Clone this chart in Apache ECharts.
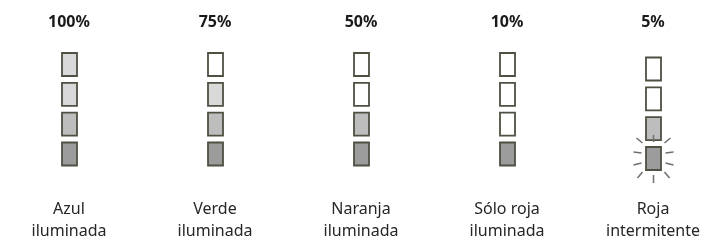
<!DOCTYPE html>
<html><head><meta charset="utf-8">
<script src="https://cdn.jsdelivr.net/npm/echarts@6/dist/echarts.min.js"></script>
<style>html,body{margin:0;padding:0;background:#fff}#c{width:703px;height:242px}</style>
</head><body><div id="c"></div>
<script>
// Data
const categories = ['Azul\niluminada', 'Verde\niluminada', 'Naranja\niluminada', 'Sólo roja\niluminada', 'Roja\nintermitente'];
const percentLabels = ['100%', '75%', '50%', '10%', '5%'];
// light level per box, top to bottom: 0 = off (white), 1 = light, 2 = medium, 3 = dark
const col1 = [1, 1, 2, 3];
const col2 = [0, 1, 2, 3];
const col3 = [0, 0, 2, 3];
const col4 = [0, 0, 0, 3];
const col5 = [0, 0, 2, 3];
const blinking = [false, false, false, false, true];

const columns = [col1, col2, col3, col4, col5];
const fills = ['#ffffff', '#d9d9d9', '#bdbdbd', '#9c9c9c'];

const data = [];
columns.forEach((col, ci) => {
  col.forEach((lvl, ri) => {
    data.push([ci, ri, lvl, (blinking[ci] && ri === col.length - 1) ? 1 : 0, blinking[ci] ? 1 : 0]);
  });
});

const rays = [
  [0, -23.5, 0, -16.5], [0, 16.5, 0, 24.5],
  [-17, -20.5, -11, -15.5], [17, -20.5, 11, -15.5],
  [-20, -6.5, -12, -5.5], [20, -6.5, 12, -5.5],
  [-20, 6.5, -12, 4.5], [20, 6.5, 12, 4.5],
  [-16, 19.5, -11, 13.5], [16, 19.5, 11, 13.5]
];

const chart = echarts.init(document.getElementById('c'), null, {renderer: 'canvas'});
chart.setOption({
  animation: false,
  grid: {left: 69, right: 50, top: 64.5, bottom: 87},
  xAxis: [{
    type: 'value', min: 0, max: 4, interval: 1, position: 'bottom',
    axisLine: {show: false}, axisTick: {show: false}, splitLine: {show: false},
    axisLabel: {
      margin: 44, interval: 0, showMinLabel: true, showMaxLabel: true,
      formatter: v => categories[v] || '',
      fontFamily: 'Noto Sans', fontSize: 16, lineHeight: 22, color: '#262626', verticalAlign: 'top'
    }
  }, {
    type: 'value', min: 0, max: 4, interval: 1, position: 'top',
    axisLine: {show: false}, axisTick: {show: false}, splitLine: {show: false},
    axisLabel: {
      margin: 42.5, showMinLabel: true, showMaxLabel: true,
      formatter: v => percentLabels[v] || '',
      fontFamily: 'Noto Sans', fontSize: 16, fontWeight: 'bold', color: '#1a1a1a', verticalAlign: 'middle'
    }
  }],
  yAxis: {
    type: 'value', min: 0, max: 3, inverse: true, show: false
  },
  series: [{
    type: 'custom',
    data: data,
    renderItem: function (params, api) {
      const p = api.coord([api.value(0), api.value(1)]);
      const lvl = api.value(2);
      const isBlink = api.value(3) === 1;
      const shift = api.value(4) === 1 ? 4.5 : 0;
      const cx = p[0] + 0.5, cy = p[1] + shift;
      const w = 15, h = 23;
      const children = [{
        type: 'rect',
        shape: {x: cx - w / 2, y: cy - h / 2, width: w, height: h},
        style: {fill: fills[lvl], stroke: '#4f4f42', lineWidth: 1.8}
      }];
      if (isBlink) {
        rays.forEach(r => {
          children.push({
            type: 'line',
            shape: {x1: cx + r[0], y1: cy + r[1], x2: cx + r[2], y2: cy + r[3]},
            style: {stroke: '#6e6e6e', lineWidth: 1.5}
          });
        });
      }
      return {type: 'group', children: children};
    }
  }]
});
</script></body></html>
